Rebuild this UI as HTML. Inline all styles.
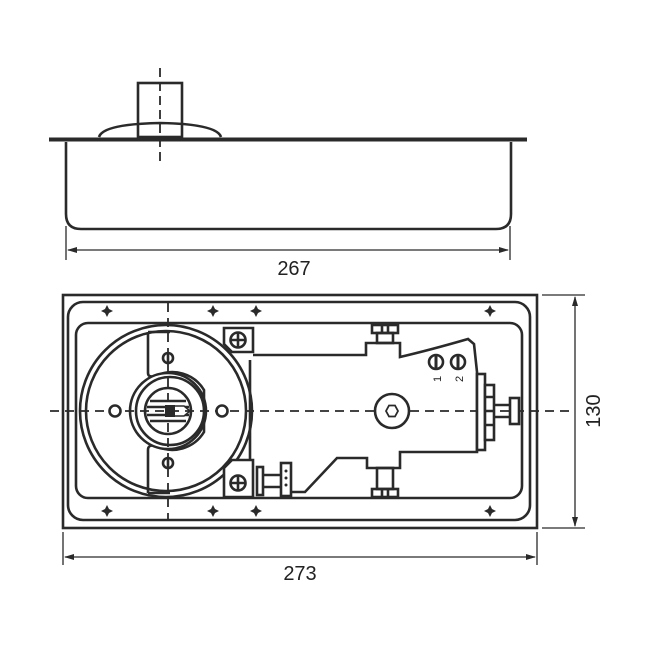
<!DOCTYPE html>
<html><head><meta charset="utf-8"><style>
html,body{margin:0;padding:0;background:#fff;width:650px;height:650px;overflow:hidden}
svg{display:block}
text{font-family:"Liberation Sans",Arial,sans-serif;fill:#222}
</style></head><body>
<svg width="650" height="650" viewBox="0 0 650 650" xmlns="http://www.w3.org/2000/svg">
<rect width="650" height="650" fill="#fff"/>
<g stroke="#2a2a2a" fill="none" stroke-width="2.6">
<!-- top view -->
<rect x="49" y="137.5" width="478" height="4" fill="#2a2a2a" stroke="none"/>
<path d="M66 142 V214 Q66 229 81 229 H496 Q511 229 511 214 V142"/>
<path d="M99 137 Q103 124 160 123 Q217 124 221 137"/>
<rect x="138" y="83" width="44" height="54"/>
<line x1="160" y1="68" x2="160" y2="162" stroke-dasharray="9,5" stroke-width="1.8"/>
<g stroke-width="1.3">
<line x1="66" y1="226" x2="66" y2="260"/><line x1="510" y1="226" x2="510" y2="260"/>
<line x1="68" y1="250" x2="508" y2="250"/>
</g>
<path d="M67 250 l10 -3 v6z M509 250 l-10 -3 v6z" fill="#2a2a2a" stroke="none"/>

<!-- bottom view frames -->
<rect x="63" y="295" width="474" height="233"/>
<rect x="68" y="302" width="462" height="218" rx="15"/>
<rect x="76" y="323" width="446" height="175" rx="12"/>

<!-- body -->
<path d="M253 355 H366 V343 H400 V357 Q430 350 468 339 L474 344 L477 372 V452 H400 V468 H367 V458 H337 L305 492 H290" fill="#fff"/>
<!-- circles -->
<circle cx="166" cy="411" r="86" fill="#fff"/>
<circle cx="166" cy="411" r="80"/>
<path d="M148 332 V373 Q148 378 156 376 A37 37 0 0 1 204 390 L204 432 A37 37 0 0 1 156 446 Q148 444 148 450 V493 M250 360 V466 M148 332 H170 M148 493 H170"/>
<circle cx="168" cy="411" r="38" fill="#fff"/>
<circle cx="170" cy="411" r="34"/>
<circle cx="168" cy="411" r="23" fill="#fff"/>
<g stroke-width="2.5">
<line x1="150" y1="401" x2="186" y2="401"/><line x1="147" y1="407" x2="189" y2="407"/>
<line x1="147" y1="415" x2="189" y2="415"/><line x1="150" y1="421" x2="186" y2="421"/>
</g>
<rect x="165" y="405" width="10" height="12" fill="#2a2a2a" stroke="none"/>
<path d="M175 406 H184 L190 411 L184 416 H175" fill="#fff" stroke-width="1.5"/>
<circle cx="168" cy="358" r="5" fill="#fff"/><line x1="168" y1="353" x2="168" y2="363"/>
<circle cx="168" cy="463" r="5" fill="#fff"/><line x1="168" y1="458" x2="168" y2="468"/>
<!-- corner screw blocks -->
<path d="M224 328 H253 V352 H232 L224 344Z" fill="#fff"/>
<circle cx="238" cy="340" r="7.5"/><path d="M230.5 340 H245.5 M238 332.5 V347.5"/>
<path d="M224 468 L232 460 H253 V497 H224Z" fill="#fff"/>
<circle cx="238" cy="483" r="7.5"/><path d="M230.5 483 H245.5 M238 475.5 V490.5"/>
<rect x="257" y="467" width="6" height="28"/>
<line x1="263" y1="475" x2="281" y2="475"/><line x1="263" y1="487" x2="281" y2="487"/>
<rect x="281" y="463" width="10" height="33" fill="#fff"/>
<g fill="#2a2a2a" stroke="none"><circle cx="286" cy="471" r="1.5"/><circle cx="286" cy="478" r="1.5"/><circle cx="286" cy="485" r="1.5"/></g>
<!-- bolts -->
<rect x="372" y="325" width="26" height="8"/><rect x="377" y="333" width="16" height="10"/>
<line x1="382" y1="325" x2="382" y2="333"/><line x1="388" y1="325" x2="388" y2="333"/>
<rect x="372" y="489" width="26" height="8"/><rect x="377" y="468" width="16" height="21"/>
<line x1="382" y1="489" x2="382" y2="497"/><line x1="388" y1="489" x2="388" y2="497"/>
<!-- center lines -->
<line x1="50" y1="411" x2="570" y2="411" stroke-dasharray="9,6" stroke-width="1.8"/>
<line x1="168" y1="303" x2="168" y2="520" stroke-dasharray="9,6" stroke-width="1.8"/>
<circle cx="392" cy="411" r="17" fill="#fff"/>
<path d="M386 411 L389 405.5 H395 L398 411 L395 416.5 H389Z" stroke-width="1.8"/>
<circle cx="115" cy="411" r="5.5" fill="#fff"/>
<circle cx="222" cy="411" r="5.5" fill="#fff"/>
<circle cx="436" cy="362" r="7" fill="#fff"/><line x1="436" y1="355" x2="436" y2="369" stroke-width="3"/>
<circle cx="458" cy="362" r="7" fill="#fff"/><line x1="458" y1="355" x2="458" y2="369" stroke-width="3"/>
<!-- right stack -->
<rect x="477" y="374" width="8" height="76" fill="#fff"/>
<rect x="485" y="385" width="9" height="55" fill="#fff"/>
<path d="M485 397 H494 M485 411 H494 M485 425 H494"/>
<path d="M494 405 H511 M494 417 H511"/>
<rect x="510" y="398" width="9" height="26" fill="#fff"/>
</g>
<!-- diamonds -->
<g fill="#2a2a2a">
<path d="M0 -6 L2 -2 L6 0 L2 2 L0 6 L-2 2 L-6 0 L-2 -2Z" transform="translate(107,311)"/>
<path d="M0 -6 L2 -2 L6 0 L2 2 L0 6 L-2 2 L-6 0 L-2 -2Z" transform="translate(213,311)"/>
<path d="M0 -6 L2 -2 L6 0 L2 2 L0 6 L-2 2 L-6 0 L-2 -2Z" transform="translate(256,311)"/>
<path d="M0 -6 L2 -2 L6 0 L2 2 L0 6 L-2 2 L-6 0 L-2 -2Z" transform="translate(490,311)"/>
<path d="M0 -6 L2 -2 L6 0 L2 2 L0 6 L-2 2 L-6 0 L-2 -2Z" transform="translate(107,511)"/>
<path d="M0 -6 L2 -2 L6 0 L2 2 L0 6 L-2 2 L-6 0 L-2 -2Z" transform="translate(213,511)"/>
<path d="M0 -6 L2 -2 L6 0 L2 2 L0 6 L-2 2 L-6 0 L-2 -2Z" transform="translate(256,511)"/>
<path d="M0 -6 L2 -2 L6 0 L2 2 L0 6 L-2 2 L-6 0 L-2 -2Z" transform="translate(490,511)"/>
</g>
<text x="0" y="0" font-size="11" transform="translate(441,382) rotate(-90)">1</text>
<text x="0" y="0" font-size="11" transform="translate(463,382) rotate(-90)">2</text>
<!-- dimensions -->
<g stroke="#2a2a2a" stroke-width="1.3">
<line x1="63" y1="532" x2="63" y2="565"/><line x1="537" y1="532" x2="537" y2="565"/>
<line x1="65" y1="557" x2="535" y2="557"/>
<line x1="542" y1="295" x2="585" y2="295"/><line x1="542" y1="528" x2="585" y2="528"/>
<line x1="575" y1="297" x2="575" y2="526"/>
</g>
<path d="M64 557 l10 -3 v6z M536 557 l-10 -3 v6z M575 296 l-3 10 h6z M575 527 l-3 -10 h6z" fill="#2a2a2a"/>
<text x="294" y="275" font-size="20" text-anchor="middle">267</text>
<text x="300" y="580" font-size="20" text-anchor="middle">273</text>
<text x="0" y="0" font-size="20" text-anchor="middle" transform="translate(600,411) rotate(-90)">130</text>
</svg>
</body></html>
